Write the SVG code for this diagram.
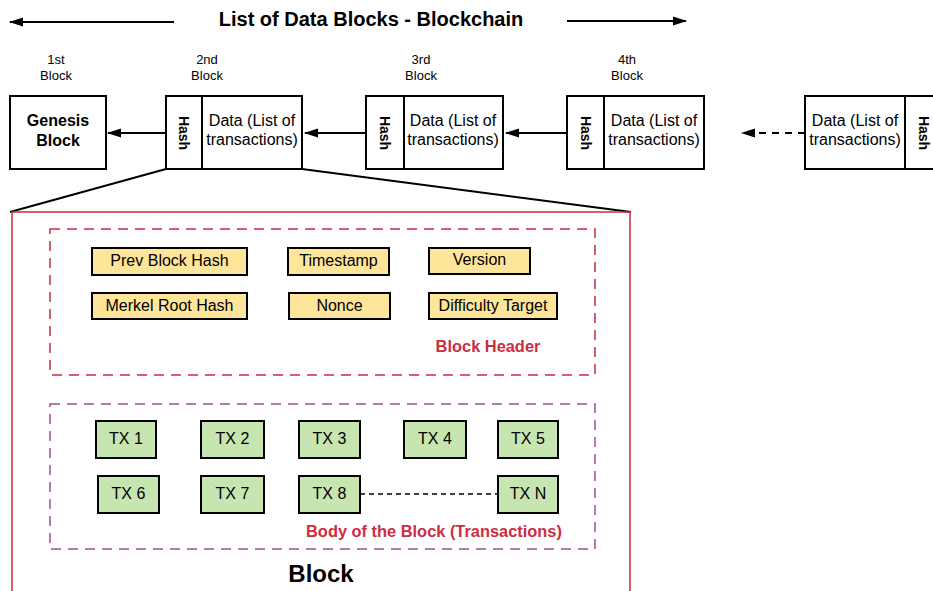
<svg xmlns="http://www.w3.org/2000/svg" width="933" height="591" viewBox="0 0 933 591">
<defs>
<marker id="ahb" viewBox="0 0 14 10" refX="13" refY="5" markerWidth="14" markerHeight="10" markerUnits="userSpaceOnUse" orient="auto">
<path d="M0,0.5 L14,5 L0,9.5 Z" fill="#000"/>
</marker>
<style>
text{font-family:"Liberation Sans",Arial,sans-serif;fill:#000}
.box{fill:#fff;stroke:#000;stroke-width:2}
.lbl{font-size:13px;text-anchor:middle}
.data{font-size:16px;text-anchor:middle}
.hash{font-size:14px;font-weight:bold;text-anchor:middle}
.hdr{fill:#ffe599;stroke:#000;stroke-width:2}
.tx{fill:#c6e5b0;stroke:#000;stroke-width:2}
.ft{font-size:16px;text-anchor:middle}
.red{fill:#cc2d3f;font-weight:bold;font-size:16.4px;text-anchor:middle}
.conn{stroke:#000;stroke-width:2;fill:none}
</style>
</defs>
<g id="title">
<text x="371" y="26" font-size="20" font-weight="bold" text-anchor="middle">List of Data Blocks - Blockchain</text>
</g>
<g id="labels">
<text class="lbl" x="56" y="64">1st</text><text class="lbl" x="56" y="80">Block</text>
<text class="lbl" x="207" y="64">2nd</text><text class="lbl" x="207" y="80">Block</text>
<text class="lbl" x="421" y="64">3rd</text><text class="lbl" x="421" y="80">Block</text>
<text class="lbl" x="627" y="64">4th</text><text class="lbl" x="627" y="80">Block</text>
</g>
<g id="genesis">
<rect class="box" x="10" y="96" width="96" height="73"/>
<text x="58" y="126" font-size="16" font-weight="bold" text-anchor="middle">Genesis</text>
<text x="58" y="146" font-size="16" font-weight="bold" text-anchor="middle">Block</text>
</g>
<g id="block2">
<rect class="box" x="166" y="96" width="136" height="73"/>
<line class="conn" x1="202" y1="96" x2="202" y2="169"/>
<text class="hash" transform="translate(179,133) rotate(90)">Hash</text>
<text class="data" x="252" y="126">Data (List of</text>
<text class="data" x="252" y="145">transactions)</text>
</g>
<g id="block3">
<rect class="box" x="366" y="96" width="137" height="73"/>
<line class="conn" x1="404" y1="96" x2="404" y2="169"/>
<text class="hash" transform="translate(380,133) rotate(90)">Hash</text>
<text class="data" x="453" y="126">Data (List of</text>
<text class="data" x="453" y="145">transactions)</text>
</g>
<g id="block4">
<rect class="box" x="567" y="96" width="137" height="73"/>
<line class="conn" x1="604" y1="96" x2="604" y2="169"/>
<text class="hash" transform="translate(581,133) rotate(90)">Hash</text>
<text class="data" x="654" y="126">Data (List of</text>
<text class="data" x="654" y="145">transactions)</text>
</g>
<g id="block5">
<rect class="box" x="805" y="96" width="140" height="73"/>
<line class="conn" x1="905" y1="96" x2="905" y2="169"/>
<text class="hash" transform="translate(919,133) rotate(90)">Hash</text>
<text class="data" x="855" y="126">Data (List of</text>
<text class="data" x="855" y="145">transactions)</text>
</g>
<g id="connectors">
<line class="conn" x1="174" y1="22" x2="10" y2="22" marker-end="url(#ahb)"/>
<line class="conn" x1="567" y1="21" x2="686" y2="21" marker-end="url(#ahb)"/>
<line class="conn" x1="166" y1="133" x2="108" y2="133" marker-end="url(#ahb)"/>
<line class="conn" x1="366" y1="133" x2="305" y2="133" marker-end="url(#ahb)"/>
<line class="conn" x1="567" y1="133" x2="506" y2="133" marker-end="url(#ahb)"/>
<line class="conn" x1="805" y1="133" x2="742" y2="133" stroke-dasharray="7,6" marker-end="url(#ahb)"/>
<line class="conn" x1="166" y1="169" x2="10" y2="212"/>
<line class="conn" x1="302" y1="169" x2="631" y2="212"/>
<line x1="360" y1="494" x2="498" y2="494" stroke="#000" stroke-width="1.5" stroke-dasharray="5,4"/>
</g>
<g id="block-detail">
<rect x="12" y="212" width="618" height="390" fill="none" stroke="#cc2d3f" stroke-width="1.5"/>
<text x="321" y="582" font-size="24" font-weight="bold" text-anchor="middle">Block</text>
</g>
<g id="block-header">
<rect x="50" y="229" width="545" height="146" fill="none" stroke="#cc2d3f" stroke-width="1.5" stroke-dasharray="10,7"/>
<text class="red" x="488" y="352">Block Header</text>
</g>
<g id="prev-hash"><rect class="hdr" x="92" y="248" width="155" height="27"/><text class="ft" x="169.5" y="266">Prev Block Hash</text></g>
<g id="timestamp"><rect class="hdr" x="288" y="248" width="101" height="27"/><text class="ft" x="338.5" y="266">Timestamp</text></g>
<g id="version"><rect class="hdr" x="429" y="248" width="101" height="26"/><text class="ft" x="479.5" y="265">Version</text></g>
<g id="merkel"><rect class="hdr" x="92" y="293" width="155" height="26"/><text class="ft" x="169.5" y="311">Merkel Root Hash</text></g>
<g id="nonce"><rect class="hdr" x="289" y="293" width="101" height="26"/><text class="ft" x="339.5" y="311">Nonce</text></g>
<g id="difficulty"><rect class="hdr" x="429" y="293" width="128" height="26"/><text class="ft" x="493" y="311">Difficulty Target</text></g>
<g id="block-body">
<rect x="50" y="404" width="545" height="145" fill="none" stroke="#9b4f9b" stroke-width="1.5" stroke-dasharray="10,7"/>
<text class="red" x="434" y="537">Body of the Block (Transactions)</text>
</g>
<g id="tx1"><rect class="tx" x="96" y="421" width="60" height="37"/><text class="ft" x="126" y="444">TX 1</text></g>
<g id="tx2"><rect class="tx" x="201" y="421" width="63" height="37"/><text class="ft" x="232.5" y="444">TX 2</text></g>
<g id="tx3"><rect class="tx" x="299" y="421" width="61" height="37"/><text class="ft" x="329.5" y="444">TX 3</text></g>
<g id="tx4"><rect class="tx" x="404" y="421" width="62" height="37"/><text class="ft" x="435" y="444">TX 4</text></g>
<g id="tx5"><rect class="tx" x="498" y="421" width="60" height="37"/><text class="ft" x="528" y="444">TX 5</text></g>
<g id="tx6"><rect class="tx" x="98" y="476" width="61" height="37"/><text class="ft" x="128.5" y="499">TX 6</text></g>
<g id="tx7"><rect class="tx" x="201" y="476" width="63" height="37"/><text class="ft" x="232.5" y="499">TX 7</text></g>
<g id="tx8"><rect class="tx" x="299" y="476" width="61" height="37"/><text class="ft" x="329.5" y="499">TX 8</text></g>
<g id="txn"><rect class="tx" x="498" y="476" width="60" height="37"/><text class="ft" x="528" y="499">TX N</text></g>
</svg>
